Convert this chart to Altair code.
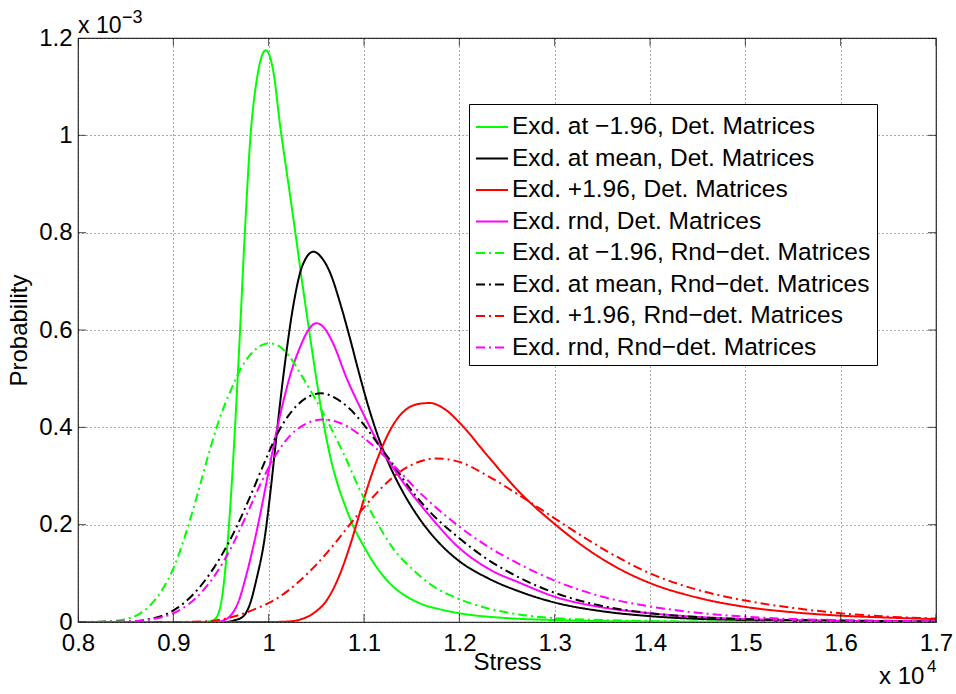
import altair as alt
import pandas as pd

# ---------------- data (stress in units of 1e4, probability in units of 1e-3) ----------------
X_TICKS = [0.8, 0.9, 1.0, 1.1, 1.2, 1.3, 1.4, 1.5, 1.6, 1.7]
Y_TICKS = [0.0, 0.2, 0.4, 0.6, 0.8, 1.0, 1.2]

names = [
    "Exd. at \u22121.96, Det. Matrices",
    "Exd. at mean, Det. Matrices",
    "Exd. +1.96, Det. Matrices",
    "Exd. rnd, Det. Matrices",
    "Exd. at \u22121.96, Rnd\u2212det. Matrices",
    "Exd. at mean, Rnd\u2212det. Matrices",
    "Exd. +1.96, Rnd\u2212det. Matrices",
    "Exd. rnd, Rnd\u2212det. Matrices",
]
colors = ["#00ff00", "#000000", "#ff0000", "#ff00ff",
          "#00ff00", "#000000", "#ff0000", "#ff00ff"]

g_det_x = [0.80, 0.93, 0.940, 0.946, 0.951, 0.958, 0.965, 0.970, 0.975, 0.981, 0.988, 0.997,
           1.005, 1.012, 1.020, 1.028, 1.035, 1.042, 1.050, 1.057, 1.064, 1.072, 1.080, 1.089,
           1.100, 1.110, 1.120, 1.131, 1.145, 1.159, 1.180, 1.20, 1.25, 1.30, 1.40, 1.50, 1.70]
g_det_y = [0, 0, 0.002, 0.012, 0.05, 0.19, 0.41, 0.60, 0.80, 1.00, 1.12, 1.175,
           1.13, 1.02, 0.91, 0.80, 0.70, 0.605, 0.50, 0.415, 0.345, 0.285, 0.24, 0.196,
           0.155, 0.122, 0.095, 0.072, 0.052, 0.038, 0.026, 0.018, 0.008, 0.004, 0.001, 0.0003, 0.0]

k_det_x = [0.80, 0.955, 0.963, 0.973, 0.980, 0.987, 0.996, 1.002, 1.007, 1.012, 1.019, 1.026,
           1.035, 1.047, 1.055, 1.065, 1.075, 1.085, 1.095, 1.105, 1.115, 1.125, 1.140, 1.159,
           1.180, 1.20, 1.23, 1.264, 1.30, 1.35, 1.40, 1.50, 1.60, 1.70]
k_det_y = [0, 0, 0.003, 0.011, 0.035, 0.086, 0.175, 0.27, 0.36, 0.45, 0.56, 0.652,
           0.73, 0.761, 0.75, 0.715, 0.655, 0.585, 0.51, 0.44, 0.38, 0.33, 0.27, 0.21,
           0.16, 0.125, 0.09, 0.062, 0.040, 0.022, 0.012, 0.004, 0.002, 0.001]

r_det_x = [0.80, 1.00, 1.020, 1.033, 1.047, 1.061, 1.073, 1.085, 1.095, 1.105, 1.115, 1.125,
           1.135, 1.145, 1.157, 1.169, 1.185, 1.201, 1.229, 1.264, 1.299, 1.334, 1.369, 1.40,
           1.45, 1.50, 1.55, 1.60, 1.65, 1.70]
r_det_y = [0, 0, 0.001, 0.005, 0.018, 0.045, 0.09, 0.155, 0.22, 0.285, 0.34, 0.385,
           0.418, 0.438, 0.448, 0.450, 0.437, 0.408, 0.343, 0.265, 0.203, 0.15, 0.108, 0.08,
           0.050, 0.031, 0.020, 0.013, 0.009, 0.006]

m_det_x = [0.80, 0.945, 0.952, 0.959, 0.968, 0.977, 0.985, 0.991, 1.000, 1.007, 1.015, 1.023,
           1.033, 1.041, 1.050, 1.058, 1.067, 1.082, 1.100, 1.117, 1.140, 1.166, 1.20, 1.23,
           1.264, 1.30, 1.35, 1.40, 1.473, 1.55, 1.70]
m_det_y = [0, 0, 0.003, 0.011, 0.04, 0.10, 0.165, 0.22, 0.31, 0.38, 0.45, 0.51,
           0.565, 0.598, 0.614, 0.605, 0.575, 0.50, 0.425, 0.36, 0.29, 0.225, 0.152, 0.11,
           0.08, 0.052, 0.03, 0.018, 0.008, 0.004, 0.001]

g_rnd_x = [0.80, 0.83, 0.85, 0.862, 0.876, 0.888, 0.900, 0.912, 0.925, 0.937, 0.948, 0.960,
           0.972, 0.985, 1.000, 1.010, 1.022, 1.035, 1.050, 1.065, 1.080, 1.096, 1.112, 1.131,
           1.150, 1.170, 1.20, 1.23, 1.264, 1.30, 1.35, 1.45, 1.70]
g_rnd_y = [0, 0.001, 0.006, 0.014, 0.035, 0.065, 0.11, 0.175, 0.26, 0.345, 0.415, 0.475,
           0.525, 0.558, 0.573, 0.568, 0.545, 0.505, 0.455, 0.40, 0.34, 0.27, 0.21, 0.15,
           0.11, 0.077, 0.047, 0.028, 0.015, 0.008, 0.004, 0.001, 0.0]

k_rnd_x = [0.80, 0.857, 0.875, 0.890, 0.905, 0.920, 0.935, 0.950, 0.965, 0.980, 0.995, 1.010,
           1.025, 1.040, 1.055, 1.070, 1.085, 1.100, 1.115, 1.130, 1.148, 1.165, 1.20, 1.23,
           1.264, 1.30, 1.35, 1.40, 1.45, 1.50, 1.60, 1.70]
k_rnd_y = [0, 0.001, 0.006, 0.014, 0.03, 0.055, 0.09, 0.135, 0.19, 0.255, 0.325, 0.39,
           0.435, 0.461, 0.470, 0.46, 0.438, 0.405, 0.365, 0.325, 0.275, 0.235, 0.172, 0.128,
           0.09, 0.06, 0.033, 0.018, 0.010, 0.006, 0.003, 0.001]

r_rnd_x = [0.80, 0.90, 0.93, 0.950, 0.970, 0.990, 1.010, 1.030, 1.050, 1.070, 1.090, 1.110,
           1.130, 1.150, 1.176, 1.20, 1.23, 1.264, 1.30, 1.334, 1.369, 1.40, 1.45, 1.50,
           1.55, 1.60, 1.65, 1.70]
r_rnd_y = [0, 0, 0.001, 0.005, 0.015, 0.03, 0.05, 0.08, 0.118, 0.163, 0.212, 0.258,
           0.297, 0.323, 0.336, 0.329, 0.300, 0.259, 0.213, 0.170, 0.130, 0.100, 0.066, 0.044,
           0.029, 0.018, 0.011, 0.007]

m_rnd_x = [0.80, 0.85, 0.875, 0.895, 0.915, 0.930, 0.945, 0.962, 0.978, 0.993, 1.008, 1.022,
           1.037, 1.057, 1.075, 1.100, 1.131, 1.159, 1.20, 1.23, 1.264, 1.30, 1.35, 1.40,
           1.45, 1.50, 1.55, 1.60, 1.70]
m_rnd_y = [0, 0.001, 0.005, 0.014, 0.035, 0.062, 0.100, 0.158, 0.225, 0.29, 0.345, 0.382,
           0.405, 0.416, 0.409, 0.378, 0.322, 0.265, 0.196, 0.155, 0.118, 0.085, 0.052, 0.032,
           0.019, 0.011, 0.006, 0.004, 0.001]

series_x = [g_det_x, k_det_x, r_det_x, m_det_x, g_rnd_x, k_rnd_x, r_rnd_x, m_rnd_x]
series_y = [g_det_y, k_det_y, r_det_y, m_det_y, g_rnd_y, k_rnd_y, r_rnd_y, m_rnd_y]

# ---------------- build table ----------------
rows = []
for i, (xs, ys) in enumerate(zip(series_x, series_y)):
    for xv, yv in zip(xs, ys):
        rows.append({"series": names[i], "order": i, "stress": xv, "prob": yv})
df = pd.DataFrame(rows)

SOLID = [1, 0]
DASHDOT = [9, 4, 2, 4]
dashes = [SOLID] * 4 + [DASHDOT] * 4

FONT = "Liberation Sans"
W, H = 858, 584

xscale = alt.Scale(domain=[0.8, 1.7], nice=False, zero=False)
yscale = alt.Scale(domain=[0, 1.2], nice=False)

xaxis = alt.Axis(values=X_TICKS, format="~g", ticks=False, domain=False, grid=True,
                 gridDash=[1, 3], gridColor="#555555", gridWidth=1,
                 labelFontSize=24, labelPadding=9, labelColor="#000", labelOverlap=False,
                 labelFlush=False, title="Stress", titleFontSize=24, titleFontWeight="normal",
                 titleColor="#000", titlePadding=0, titleY=28)
yaxis = alt.Axis(values=Y_TICKS, format="~g", ticks=False, domain=False, grid=True,
                 gridDash=[1, 3], gridColor="#555555", gridWidth=1,
                 labelFontSize=24, labelPadding=6, labelColor="#000", labelOverlap=False,
                 labelFlush=False, title="Probability", titleFontSize=24,
                 titleFontWeight="normal", titleColor="#000", titlePadding=7)

lines = alt.Chart(df).mark_line(strokeWidth=2, interpolate="monotone", clip=True).encode(
    x=alt.X("stress:Q", scale=xscale, axis=xaxis),
    y=alt.Y("prob:Q", scale=yscale, axis=yaxis),
    color=alt.Color("series:N", scale=alt.Scale(domain=names, range=colors), title=None),
    strokeDash=alt.StrokeDash("series:N", scale=alt.Scale(domain=names, range=dashes), title=None),
    order=alt.Order("order:Q"),
)

# inward ticks on all four sides (MATLAB box style)
xt = pd.DataFrame({"v": X_TICKS})
yt = pd.DataFrame({"v": Y_TICKS})
tick_style = dict(color="#000", thickness=1, size=16, clip=True)
bottom_ticks = alt.Chart(xt).mark_tick(orient="vertical", **tick_style).encode(
    x=alt.X("v:Q", scale=xscale), y=alt.datum(0))
top_ticks = alt.Chart(xt).mark_tick(orient="vertical", **tick_style).encode(
    x=alt.X("v:Q", scale=xscale), y=alt.datum(1.2))
left_ticks = alt.Chart(yt).mark_tick(orient="horizontal", **tick_style).encode(
    y=alt.Y("v:Q", scale=yscale), x=alt.datum(0.8))
right_ticks = alt.Chart(yt).mark_tick(orient="horizontal", **tick_style).encode(
    y=alt.Y("v:Q", scale=yscale), x=alt.datum(1.7))

# exponent annotations
ann_text = ["x 10", "\u22123", "x 10", "4"]
ann_px = [0, 44, 801, 849]
ann_py = [-5, -15, 646, 634]
ann_fs = [23, 18, 24, 17]
ann_layers = []
for t, px, py, fs in zip(ann_text, ann_px, ann_py, ann_fs):
    ann_layers.append(
        alt.Chart(pd.DataFrame({"t": [t]})).mark_text(
            align="left", baseline="alphabetic", font=FONT, fontSize=fs, color="#000"
        ).encode(text="t:N", x=alt.value(px), y=alt.value(py))
    )

chart = alt.layer(lines, bottom_ticks, top_ticks, left_ticks, right_ticks, *ann_layers).properties(
    width=W, height=H,
    autosize=alt.AutoSizeParams(type="none"),
    padding={"left": 78, "top": 38, "right": 20, "bottom": 72},
).configure(
    font=FONT,
).configure_view(
    stroke="#222222", strokeWidth=1.2,
).configure_legend(
    orient="none", legendX=391, legendY=66,
    symbolType="stroke", symbolSize=1024, symbolStrokeWidth=2,
    labelFont=FONT, labelFontSize=24.5, labelColor="#000", labelLimit=600, labelOffset=3,
    strokeColor="#000", fillColor="#ffffff", padding=6, rowPadding=2.5,
)

chart.save("out.html", embed_options={"renderer": "svg", "actions": False})
